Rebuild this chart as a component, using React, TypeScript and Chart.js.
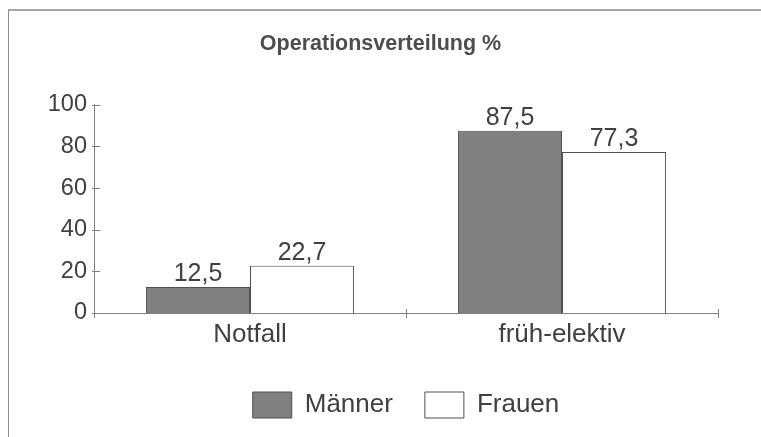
import React, { useEffect, useRef } from "react";
import { Chart, registerables } from "chart.js";

Chart.register(...registerables);

const chartTitle = "Operationsverteilung %";
const categories = ["Notfall", "früh-elektiv"];
const seriesNames = ["Männer", "Frauen"];
const maenner = [12.5, 87.5];
const frauen = [22.7, 77.3];
const yMin = 0;
const yMax = 100;
const yStep = 20;

const FONT = "'Liberation Sans', Arial, Helvetica, sans-serif";
const TEXT = "#404040";
const AXIS = "#808080";

const framePlugin = {
  id: "frame",
  beforeDraw(chart: any) {
    const ctx = chart.ctx;
    ctx.save();
    ctx.strokeStyle = "#a6a6a6";
    ctx.lineWidth = 2;
    ctx.beginPath();
    ctx.moveTo(8, 10);
    ctx.lineTo(chart.width, 10);
    ctx.stroke();
    ctx.strokeStyle = "#8c8c8c";
    ctx.lineWidth = 1;
    ctx.beginPath();
    ctx.moveTo(8.5, 10);
    ctx.lineTo(8.5, chart.height);
    ctx.stroke();
    ctx.restore();
  },
};

const tickMarksPlugin = {
  id: "tickMarks",
  afterDraw(chart: any) {
    const ctx = chart.ctx;
    const a = chart.chartArea;
    const ys = chart.scales.y;
    const xs = chart.scales.x;
    ctx.save();
    ctx.strokeStyle = AXIS;
    ctx.lineWidth = 1;
    ys.ticks.forEach((t: any) => {
      const py = Math.round(ys.getPixelForValue(t.value)) + 0.5;
      ctx.beginPath();
      ctx.moveTo(a.left - 2, py);
      ctx.lineTo(a.left + 6, py);
      ctx.stroke();
    });
    for (let i = 0; i <= categories.length; i++) {
      const px = Math.round(xs.getPixelForValue(i - 0.5)) + 0.5;
      ctx.beginPath();
      ctx.moveTo(px, a.bottom - 4);
      ctx.lineTo(px, a.bottom + 5);
      ctx.stroke();
    }
    ctx.restore();
  },
};

const dataLabelPlugin = {
  id: "dataLabels",
  afterDatasetsDraw(chart: any) {
    const ctx = chart.ctx;
    ctx.save();
    ctx.fillStyle = TEXT;
    ctx.font = `25px ${FONT}`;
    ctx.textAlign = "center";
    ctx.textBaseline = "alphabetic";
    chart.data.datasets.forEach((ds: any, di: number) => {
      const meta = chart.getDatasetMeta(di);
      meta.data.forEach((el: any, i: number) => {
        const v = ds.data[i] as number;
        ctx.fillText(v.toFixed(1).replace(".", ","), el.x, el.y - 6);
      });
    });
    ctx.restore();
  },
};

export default function App() {
  const ref = useRef<HTMLCanvasElement | null>(null);

  useEffect(() => {
    if (!ref.current) return;
    const chart = new Chart(ref.current, {
      type: "bar",
      data: {
        labels: categories,
        datasets: [
          {
            label: seriesNames[0],
            data: maenner,
            backgroundColor: "#808080",
            borderColor: "#505050",
            borderWidth: 1,
            categoryPercentage: 0.667,
            barPercentage: 1,
          },
          {
            label: seriesNames[1],
            data: frauen,
            backgroundColor: "#ffffff",
            borderColor: "#505050",
            borderWidth: 1,
            categoryPercentage: 0.667,
            barPercentage: 1,
          },
        ],
      },
      options: {
        animation: false,
        responsive: true,
        maintainAspectRatio: false,
        layout: { padding: { left: 0, right: 0, top: 0, bottom: 9 } },
        plugins: {
          title: {
            display: true,
            text: chartTitle,
            color: "#4d4d4d",
            font: { family: FONT, size: 21.5, weight: "bold" },
            padding: { top: 31, bottom: 48 },
          },
          legend: {
            display: true,
            position: "bottom",
            fullSize: false,
            labels: {
              boxWidth: 39,
              boxHeight: 26,
              padding: 32,
              color: TEXT,
              font: { family: FONT, size: 26 },
            },
          },
          tooltip: { enabled: false },
        },
        scales: {
          x: {
            grid: { display: false, drawTicks: false },
            border: { display: true, color: AXIS, width: 1 },
            ticks: {
              color: TEXT,
              font: { family: FONT, size: 26 },
              padding: 6,
              maxRotation: 0,
            },
            afterFit: (s: any) => {
              s.height = 47;
            },
          },
          y: {
            min: yMin,
            max: yMax,
            grid: { display: false, drawTicks: false },
            border: { display: true, color: AXIS, width: 1 },
            ticks: {
              stepSize: yStep,
              color: TEXT,
              font: { family: FONT, size: 23.5 },
              padding: 7,
            },
            afterFit: (s: any) => {
              s.width = 94;
            },
          },
          yRightSpace: {
            type: "linear",
            position: "right",
            display: true,
            grid: { display: false, drawTicks: false },
            border: { display: false },
            ticks: { display: false },
            afterFit: (s: any) => {
              s.width = 43;
            },
          },
        },
      },
      plugins: [framePlugin, tickMarksPlugin, dataLabelPlugin],
    });
    return () => chart.destroy();
  }, []);

  return (
    <div style={{ position: "fixed", left: 0, top: 0, width: 761, height: 437, background: "#fff" }}>
      <canvas ref={ref} />
    </div>
  );
}
